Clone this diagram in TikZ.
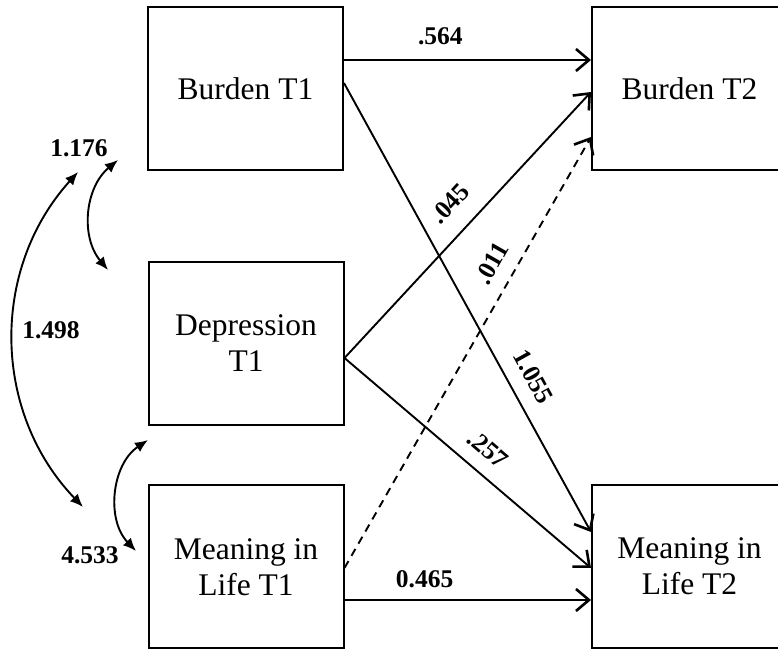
\documentclass[tikz,border=0pt]{standalone}
\usepackage{fontspec}
\setmainfont{Liberation Serif}
\usetikzlibrary{arrows.meta}
\tikzset{
	var/.style={draw, line width=1pt, minimum width=97.5pt, minimum height=81.5pt, align=center, font=\fontsize{15.75}{18}\selectfont},
	effect/.style={line width=0.95pt, -{Straight Barb[length=6.5pt,width=11pt,line width=1.3pt]}},
	cov/.style={line width=0.95pt, {Latex[length=6.5pt,width=5.5pt]}-{Latex[length=6.5pt,width=5.5pt]}},
	coef/.style={font=\fontsize{12.75}{15}\selectfont\bfseries, inner sep=2pt},
}
\begin{document}
\begin{tikzpicture}[x=0.5pt,y=-0.5pt]
	\clip (0,0) rectangle (778,652);
	%változók
	\node[var] (b1) at (245.5,88.5) {Burden T1};
	\node[var] (dep1) at (246,343.5) {Depression\\T1};
	\node[var] (mean1) at (246,567) {Meaning in\\Life T1};
	\node[var] (b2) at (689.5,88.5) {Burden T2};
	\node[var] (mean2) at (689.5,566.5) {Meaning in\\Life T2};
	
	%hatások
	\draw[effect] ([yshift=14.25pt]b1.east) -- node[coef, pos=0.39, above=5pt] {.564} ([yshift=14.25pt]b2.west);
	\draw[effect] ([yshift=2.75pt]b1.east) -- node[coef, sloped, pos=0.68, above=5.5pt] {1.055} ([yshift=17.25pt]mean2.west);
	\draw[effect] ([yshift=-7.25pt]dep1.east) -- node[coef, sloped, pos=0.51, above=7pt] {.045} ([yshift=-1.75pt]b2.west);
	\draw[effect] ([yshift=-7.25pt]dep1.east) -- node[coef, sloped, pos=0.52, above=5pt] {.257} ([yshift=-0.75pt]mean2.west);
	\draw[effect, dash pattern=on 4pt off 3pt] ([yshift=-0.5pt]mean1.east) -- node[coef, sloped, pos=0.68, above=5pt] {.011} ([yshift=-24.25pt]b2.west);
	\draw[effect] ([yshift=-16.5pt]mean1.east) -- node[coef, pos=0.325, above=3.7pt] {0.465} ([yshift=-16.75pt]mean2.west);
	
	%kovarianciák
	\coordinate (c1a) at (118,160);
	\coordinate (c1b) at (108,270);
	\coordinate (c2a) at (78,172);
	\coordinate (c2b) at (83,507);
	\coordinate (c3a) at (148,440);
	\coordinate (c3b) at (136,551);
	\draw[cov] (c1a) to[bend right=45] (c1b);
	\draw[cov] (c2a) to[bend right=43] (c2b);
	\draw[cov] (c3a) to[bend right=50] (c3b);
	\node[coef] (k1) at (79,148) {1.176};
	\node[coef] (k2) at (51,330) {1.498};
	\node[coef] (k3) at (90,555) {4.533};
\end{tikzpicture}
\end{document}
